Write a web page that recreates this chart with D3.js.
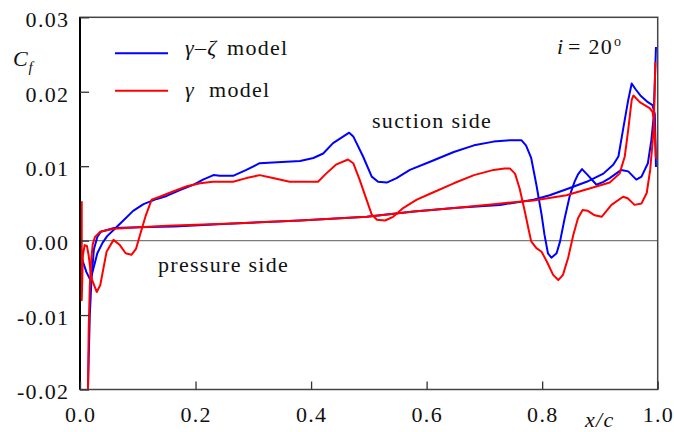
<!DOCTYPE html>
<html>
<head>
<meta charset="utf-8">
<script src="https://cdn.jsdelivr.net/npm/d3@7"></script>
<style>
  body { margin: 0; }
  #wrap { position: relative; width: 674px; height: 432px; background: #fff; }
  #chart { position: absolute; left: 0; top: 0; }
  .lbl { position: absolute; white-space: nowrap; font-family: Liberation Serif; color: #111; letter-spacing: 1.3px; }
</style>
</head>
<body>
<div id="wrap">
<svg id="chart" width="674" height="432"></svg>
</div>
<script>
// ---- data (x/c, Cf) ----
const gzSuction = [[0.001,-0.0046],[0.001,-0.0019],[0.005,-0.0028],[0.011,-0.0042],[0.018,-0.0053],[0.024,-0.0035],[0.030,-0.0017],[0.039,-0.0003],[0.047,0.0006],[0.059,0.0015],[0.075,0.0027],[0.092,0.0040],[0.110,0.0049],[0.133,0.0056],[0.150,0.0060],[0.173,0.0068],[0.196,0.0075],[0.213,0.0082],[0.231,0.0088],[0.242,0.0087],[0.265,0.0087],[0.288,0.0095],[0.311,0.0104],[0.334,0.0105],[0.381,0.0107],[0.404,0.0111],[0.421,0.0117],[0.438,0.0131],[0.456,0.0140],[0.466,0.0145],[0.473,0.0140],[0.490,0.0113],[0.505,0.0086],[0.516,0.0079],[0.531,0.0078],[0.548,0.0084],[0.571,0.0095],[0.606,0.0106],[0.647,0.0119],[0.682,0.0128],[0.716,0.0133],[0.745,0.0135],[0.764,0.0135],[0.772,0.0128],[0.781,0.0111],[0.790,0.0075],[0.799,0.0035],[0.804,0.0008],[0.810,-0.0017],[0.816,-0.0023],[0.825,-0.0017],[0.831,-0.0001],[0.839,0.0030],[0.848,0.0061],[0.856,0.0079],[0.862,0.0089],[0.869,0.0096],[0.879,0.0088],[0.894,0.0075],[0.906,0.0079],[0.917,0.0084],[0.937,0.0095],[0.949,0.0093],[0.963,0.0082],[0.972,0.0086],[0.983,0.0104],[0.989,0.0135],[0.993,0.0166],[0.997,0.0260]];

const gzPressure = [[0.013,-0.0225],[0.015,-0.0160],[0.017,-0.0100],[0.020,-0.0050],[0.024,-0.0012],[0.030,0.0005],[0.036,0.0012],[0.059,0.0017],[0.100,0.0018],[0.163,0.0019],[0.265,0.0023],[0.381,0.0027],[0.496,0.0032],[0.578,0.0039],[0.653,0.0044],[0.727,0.0048],[0.785,0.0055],[0.813,0.0061],[0.842,0.0069],[0.877,0.0079],[0.906,0.0090],[0.923,0.0102],[0.932,0.0113],[0.940,0.0149],[0.949,0.0189],[0.955,0.0211],[0.962,0.0203],[0.970,0.0195],[0.983,0.0186],[0.991,0.0182],[0.995,0.0170],[0.997,0.0099]];

const gSuction = [[0.003,0.0053],[0.003,-0.0080],[0.005,-0.0020],[0.008,-0.0006],[0.012,-0.0007],[0.015,-0.0020],[0.020,-0.0051],[0.029,-0.0069],[0.035,-0.0060],[0.046,-0.0015],[0.058,0.0001],[0.069,-0.0006],[0.079,-0.0017],[0.089,-0.0019],[0.097,-0.0011],[0.107,0.0016],[0.114,0.0034],[0.124,0.0055],[0.138,0.0059],[0.161,0.0066],[0.185,0.0073],[0.208,0.0077],[0.230,0.0079],[0.265,0.0079],[0.288,0.0084],[0.311,0.0088],[0.334,0.0084],[0.363,0.0079],[0.381,0.0079],[0.412,0.0079],[0.426,0.0090],[0.443,0.0102],[0.464,0.0109],[0.473,0.0104],[0.484,0.0082],[0.496,0.0055],[0.505,0.0035],[0.514,0.0028],[0.528,0.0027],[0.542,0.0032],[0.560,0.0044],[0.583,0.0055],[0.606,0.0063],[0.647,0.0077],[0.682,0.0088],[0.716,0.0095],[0.735,0.0097],[0.744,0.0097],[0.753,0.0090],[0.761,0.0070],[0.770,0.0039],[0.776,0.0017],[0.781,-0.0001],[0.790,-0.0010],[0.799,-0.0015],[0.808,-0.0028],[0.819,-0.0046],[0.828,-0.0053],[0.836,-0.0046],[0.845,-0.0023],[0.854,0.0008],[0.862,0.0030],[0.870,0.0041],[0.879,0.0040],[0.891,0.0034],[0.903,0.0032],[0.920,0.0048],[0.940,0.0059],[0.948,0.0057],[0.960,0.0048],[0.972,0.0050],[0.981,0.0064],[0.987,0.0095],[0.993,0.0149],[0.996,0.0240]];

const gPressure = [[0.0135,-0.0225],[0.015,-0.0120],[0.017,-0.0060],[0.019,-0.0030],[0.022,-0.0005],[0.026,0.0005],[0.035,0.0012],[0.058,0.0016],[0.150,0.0020],[0.265,0.0023],[0.381,0.0027],[0.497,0.0032],[0.578,0.0039],[0.653,0.0044],[0.716,0.0049],[0.785,0.0054],[0.842,0.0061],[0.882,0.0070],[0.917,0.0078],[0.934,0.0090],[0.943,0.0113],[0.949,0.0149],[0.955,0.0189],[0.958,0.0195],[0.969,0.0186],[0.986,0.0178],[0.991,0.0173],[0.994,0.0160],[0.997,0.0110]];

const xTicks = [0, 0.2, 0.4, 0.6, 0.8, 1.0];
const xTickLabels = ["0.0", "0.2", "0.4", "0.6", "0.8", "1.0"];
const yTicks = [-0.02, -0.01, 0, 0.01, 0.02, 0.03];
const yTickLabels = ["-0.02", "-0.01", "0.00", "0.01", "0.02", "0.03"];

// ---- layout ----
const L = 80, R = 657.7, T = 17.3, B = 389.5;
const FS = 22;

const svg = d3.select("#chart");
const wrap = d3.select("#wrap");
const x = d3.scaleLinear().domain([0, 1]).range([L, R]);
const y = d3.scaleLinear().domain([-0.02, 0.03]).range([B, T]);

svg.append("defs").append("clipPath").attr("id", "plotclip")
  .append("rect").attr("x", L).attr("y", T).attr("width", R - L).attr("height", B - T);

// zero line
svg.append("line").attr("x1", L).attr("x2", R).attr("y1", y(0)).attr("y2", y(0))
  .attr("stroke", "#7a7a7a").attr("stroke-width", 1.4);

// curves
const line = d3.line().x(d => x(d[0])).y(d => y(d[1]));
const g = svg.append("g").attr("clip-path", "url(#plotclip)");
[[gzSuction, "#0000ff"], [gzPressure, "#0000ff"], [gSuction, "#ff0000"], [gPressure, "#ff0000"]]
  .forEach(([d, c]) => {
    g.append("path").datum(d).attr("d", line).attr("fill", "none")
      .attr("stroke", c).attr("stroke-width", 2).attr("stroke-linejoin", "round");
  });

// frame
svg.append("rect").attr("x", L).attr("y", T).attr("width", R - L).attr("height", B - T)
  .attr("fill", "none").attr("stroke", "#444").attr("stroke-width", 1.5);
svg.append("line").attr("x1", L).attr("x2", L).attr("y1", T).attr("y2", B)
  .attr("stroke", "#000").attr("stroke-width", 2);

// tick marks from d3 axes
const yAxis = d3.axisLeft(y).tickValues(yTicks).tickSizeInner(-9).tickSizeOuter(0).tickFormat("");
const ya = svg.append("g").attr("transform", `translate(${L},0)`).call(yAxis);
ya.select(".domain").remove();
ya.selectAll(".tick line").attr("stroke", "#333").attr("stroke-width", 1.3);
ya.selectAll(".tick text").remove();

const xAxis = d3.axisBottom(x).tickValues(xTicks).tickSizeInner(-8).tickSizeOuter(0).tickFormat("");
const xa = svg.append("g").attr("transform", `translate(0,${B})`).call(xAxis);
xa.select(".domain").remove();
xa.selectAll(".tick line").attr("stroke", "#333").attr("stroke-width", 1.3);
xa.selectAll(".tick text").remove();

// HTML text labels: (px, baseline, text, options)
function htxt(px, base, s, opts = {}) {
  const size = opts.size || FS;
  const top = base - 0.8375 * size;   // baseline offset for line-height = 1em
  let shift = "0";
  if (opts.anchor === "end") shift = "-100%";
  if (opts.anchor === "middle") shift = "-50%";
  return wrap.append("div").attr("class", "lbl")
    .style("left", px + "px").style("top", top + "px")
    .style("font-size", size + "px").style("line-height", size + "px")
    .style("font-style", opts.italic ? "italic" : "normal")
    .style("letter-spacing", (opts.ls !== undefined ? opts.ls : 1.3) + "px")
    .style("transform", `translateX(${shift})`)
    .text(s);
}

yTicks.forEach((v, i) => htxt(L - 12 + 1.3, y(v) + 10.3, yTickLabels[i], { anchor: "end" }));
xTicks.forEach((v, i) => htxt(x(v) + 0.65, B + 33.3, xTickLabels[i], { anchor: "middle" }));

// axis titles
htxt(13, 66.5, "C", { italic: true, ls: 0 });
htxt(28.5, 72.5, "f", { italic: true, size: 15, ls: 0 });
htxt(585, 427, "x/c", { italic: true });

// legend
svg.append("line").attr("x1", 115).attr("x2", 168).attr("y1", 53.3).attr("y2", 53.3)
  .attr("stroke", "#0000ff").attr("stroke-width", 2);
svg.append("line").attr("x1", 115).attr("x2", 168).attr("y1", 90.7).attr("y2", 90.7)
  .attr("stroke", "#ff0000").attr("stroke-width", 2);
htxt(185, 55, "γ–ζ", { italic: true });
htxt(227, 55, "model");
htxt(185, 97, "γ", { italic: true });
htxt(209, 97, "model");

// annotations
htxt(557, 54, "i", { italic: true });
htxt(568, 54, "= 20");
htxt(614, 47, "o", { size: 14, ls: 0 });
htxt(372, 128.3, "suction side");
htxt(158, 272.7, "pressure side");
</script>
</body>
</html>
